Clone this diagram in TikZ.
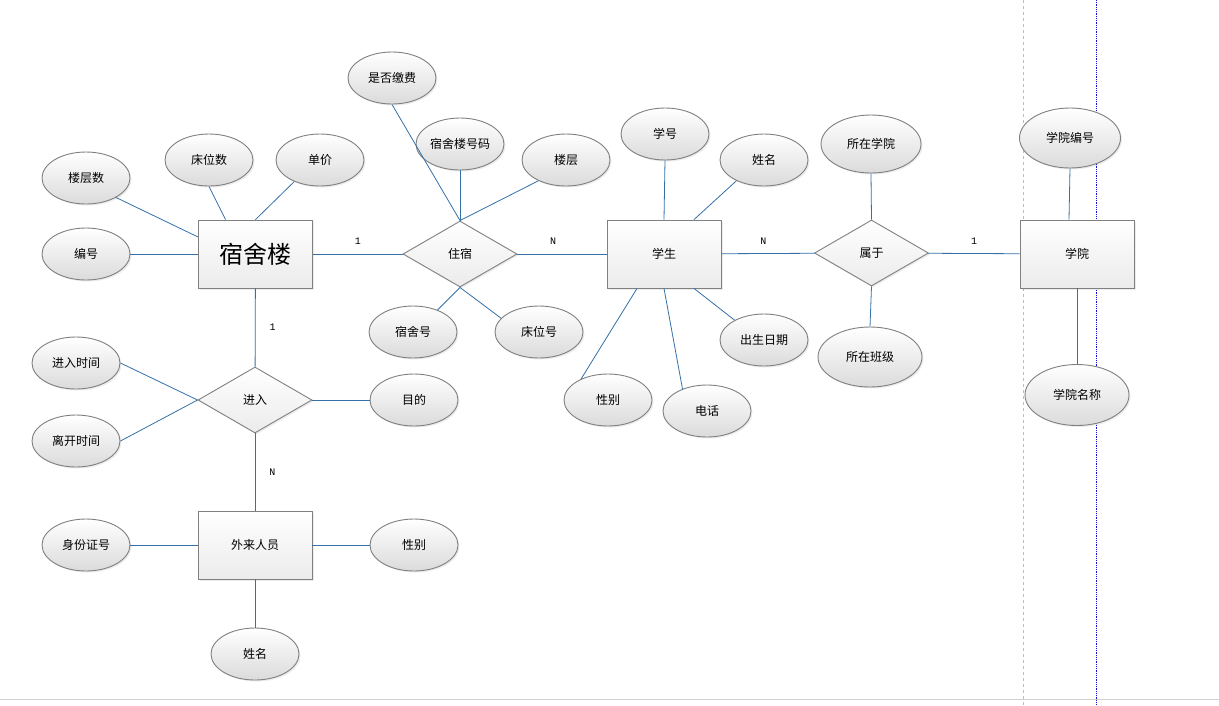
\documentclass[tikz,border=0pt]{standalone}
\usepackage{fontspec}
\setmainfont{Noto Sans CJK SC}
\newfontfamily\cardfont{Liberation Mono}
\usetikzlibrary{positioning,shapes.geometric,shadows}
\definecolor{edgeblue}{HTML}{3670A8}
\definecolor{rim}{HTML}{808080}
\definecolor{shadebot}{HTML}{EBEBEB}
\definecolor{guide}{HTML}{BDBDBD}
\definecolor{dotblue}{HTML}{1010D0}
\tikzset{
  boxshade/.style = {draw=rim, line width=0.9pt,
                     drop shadow={shadow xshift=1.5pt, shadow yshift=-1.5pt, opacity=0.15},
                     preaction={fill=white}, top color=white, bottom color=shadebot},
  ent/.style      = {rectangle, boxshade, minimum width=114pt, minimum height=68pt, inner sep=0pt,
                     font=\fontsize{12}{14}\selectfont},
  rel/.style      = {diamond, boxshade, aspect=1.73, minimum width=114pt, minimum height=66pt,
                     inner sep=0pt, font=\fontsize{12}{14}\selectfont},
  attr/.style     = {ellipse, boxshade, bottom color=shadebot!85!gray, minimum width=88pt,
                     minimum height=52pt, inner sep=0pt, font=\fontsize{12}{14}\selectfont},
  link/.style     = {draw=edgeblue, line width=0.8pt},
  card/.style     = {font=\cardfont\fontsize{10}{12}\selectfont, inner sep=1pt},
}

\begin{document}
\begin{tikzpicture}[x=1pt, y=-1pt]
  \useasboundingbox[fill=white] (0,0) rectangle (1219,705);
  % page guides
  \draw[guide, dashed, line width=0.7pt] (1023,0) -- (1023,705);
  \draw[dotblue, densely dotted, line width=0.8pt] (1096,0) -- (1096,705);
  \draw[guide!70, line width=0.7pt] (0,699) -- (1219,699);

  % entities and relations
  \node[ent, font=\fontsize{24}{28}\selectfont] (ssl) at (255.5,254) {宿舍楼};
  \node[ent] (xs) at (664,254) {学生};
  \node[ent] (xy) at (1077,254) {学院};
  \node[ent] (wl) at (255,545) {外来人员};
  \node[rel] (zs) at (460,254) {住宿};
  \node[rel] (sy) at (871.5,253) {属于};
  \node[rel] (jr) at (255,400) {进入};

  % attributes
  \node[attr] (lcs) at (86,178) {楼层数};
  \node[attr] (bh) at (86,254) {编号};
  \node[attr] (cws) at (209,160) {床位数};
  \node[attr] (dj) at (320,160) {单价};
  \node[attr] (sfjf) at (392,78) {是否缴费};
  \node[attr] (sslhm) at (460,144) {宿舍楼号码};
  \node[attr] (lc) at (566,160) {楼层};
  \node[attr] (ssh) at (413,332) {宿舍号};
  \node[attr] (cwh) at (539,332) {床位号};
  \node[attr] (xh) at (665,134) {学号};
  \node[attr] (xm) at (764,160) {姓名};
  \node[attr] (csrq) at (764,340) {出生日期};
  \node[attr] (xb) at (608,400) {性别};
  \node[attr] (dh) at (707,411) {电话};
  \node[attr, minimum width=100pt, minimum height=58pt] (szxy) at (871,144) {所在学院};
  \node[attr, minimum width=104pt, minimum height=60pt] (szbj) at (870,357) {所在班级};
  \node[attr, minimum width=101pt, minimum height=60pt] (xybh) at (1070,138) {学院编号};
  \node[attr, minimum width=104pt, minimum height=61pt] (xymc) at (1077,395) {学院名称};
  \node[attr] (jrsj) at (76,363) {进入时间};
  \node[attr] (lksj) at (76,441) {离开时间};
  \node[attr] (md) at (414,400) {目的};
  \node[attr] (sfzh) at (86,545) {身份证号};
  \node[attr] (wxb) at (414,545) {性别};
  \node[attr] (wxm) at (255,654) {姓名};

  % connectors
  \draw[link] (lcs.-33) -- ([yshift=17pt]ssl.west);
  \draw[link] (bh) -- (ssl);
  \draw[link] (cws.south) -- ([xshift=-30pt]ssl.north);
  \draw[link] (dj.-140) -- (ssl.north);
  \draw[link] (ssl) -- node[card, above=8pt] {1} (zs);
  \draw[link] (ssl) -- node[card, right=13pt] {1} (jr);
  \draw[link] (jr) -- node[card, right=13pt] {N} (wl);
  \draw[link] (jrsj.east) -- (jr.west);
  \draw[link] (lksj.east) -- (jr.west);
  \draw[link] (jr) -- (md);
  \draw[link] (sfzh) -- (wl);
  \draw[link] (wl) -- (wxb);
  \draw[link] (wl) -- (wxm);
  \draw[link] (sfjf.south) -- (zs.north);
  \draw[link] (sslhm.south) -- (zs.north);
  \draw[link] (lc.-143) -- (zs.north);
  \draw[link] (zs.south) -- (ssh.42);
  \draw[link] (zs.south) -- (cwh.160);
  \draw[link] (zs) -- node[card, above=8pt, pos=0.4] {N} (xs);
  \draw[link] (xh.south) -- (xs.north);
  \draw[link] (xm.-143) -- ([xshift=30pt]xs.north);
  \draw[link] ([xshift=-27pt]xs.south) -- (xb.142);
  \draw[link] (xs.south) -- (dh.138);
  \draw[link] ([xshift=30pt]xs.south) -- (csrq.146);
  \draw[link] (xs) -- node[card, above=8pt, pos=0.45] {N} (sy);
  \draw[link] (szxy.south) -- (sy.north);
  \draw[link] (sy.south) -- (szbj.north);
  \draw[link] (sy) -- node[card, above=8pt] {1} (xy);
  \draw[link] (xybh.south) -- ([xshift=-8pt]xy.north);
  \draw[link] (xy.south) -- (xymc.north);
\end{tikzpicture}
\end{document}
